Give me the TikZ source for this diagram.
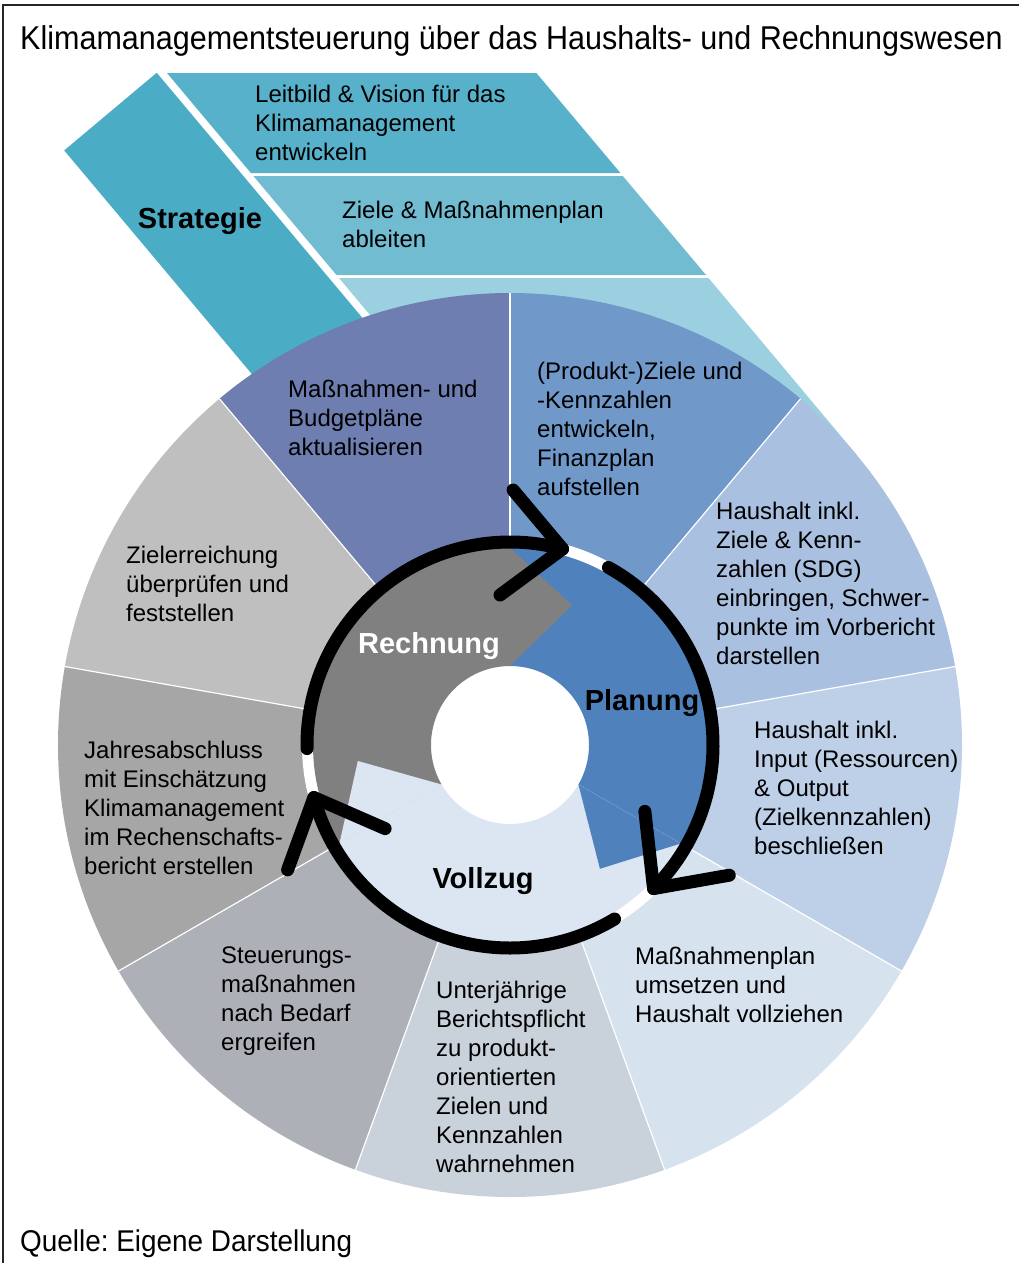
\documentclass[tikz,border=0pt]{standalone}
\usepackage{fontspec}
\usepackage{graphicx}
\setmainfont{Liberation Sans}
\frenchspacing
\definecolor{cStrat}{HTML}{4BACC6}
\definecolor{cRowA}{HTML}{58B1CA}
\definecolor{cRowB}{HTML}{72BCD1}
\definecolor{cRowC}{HTML}{9BD0E0}
\definecolor{sA}{HTML}{7099CA}
\definecolor{sB}{HTML}{A9C0E0}
\definecolor{sC}{HTML}{BDD0E8}
\definecolor{sD}{HTML}{D7E2EF}
\definecolor{sE}{HTML}{C9D1DB}
\definecolor{sF}{HTML}{ADB1B7}
\definecolor{sG}{HTML}{A6A6A6}
\definecolor{sH}{HTML}{BFBFBF}
\definecolor{sI}{HTML}{6F7EB0}
\definecolor{pGray}{HTML}{808080}
\definecolor{pBlue}{HTML}{4F81BD}
\definecolor{pLight}{HTML}{DCE6F2}
\tikzset{
  body/.style={font=\fontsize{24}{29}\selectfont, align=left, anchor=north west, inner sep=0pt, text=black},
  phase/.style={font=\fontsize{29}{34}\selectfont\bfseries, anchor=base, inner sep=0pt},
  cyc/.style={line width=13pt, line cap=round, line join=round, black}
}
\begin{document}
\begin{tikzpicture}[x=1pt,y=1pt]
\useasboundingbox (0,0) rectangle (1019,-1263);
\fill[white] (0,0) rectangle (1019,-1263);
% frame (top and left)
\draw[line width=2pt, black!85] (3,-1263) -- (3,-5) -- (1019,-5);
% strategy bands
\fill[cRowC] (339,-278) -- (708.5,-278) -- (856.3,-454.5) -- (510,-745) -- (441.4,-400) -- cycle;
\fill[cRowA] (167,-73) -- (536.4,-73) -- (620.4,-173) -- (250.9,-173) -- cycle;
\fill[cRowB] (253.4,-176) -- (622.8,-176) -- (706,-275) -- (336.5,-275) -- cycle;
\begin{scope}[rotate=-50]
  \fill[cStrat] (156.5,-47.5) rectangle (650,73.3);
\end{scope}
% outer ring
\begin{scope}[shift={(510,-745)}]
  \foreach \a/\b/\c in {90/50/sA, 50/10/sB, 10/-30/sC, -30/-70/sD, -70/-110/sE, -110/-150/sF, -150/-190/sG, 170/130/sH, 130/90/sI}{
    \fill[\c] (0,0) -- (\a:452) arc[start angle=\a, end angle=\b, radius=452] -- cycle;
  }
  \foreach \a in {90,50,10,-30,-70,-110,-150,170,130}{
    \draw[white, line width=1.2pt] (0,0) -- (\a:452);
  }
  \fill[white] (0,0) circle (208);
  % inner cycle sectors
  \fill[pGray] (90:79) -- (90:197) arc[start angle=90, end angle=210, radius=197] -- (210:79) arc[start angle=210, end angle=90, radius=79] -- cycle;
  \fill[pBlue] (-30:79) -- (-30:197) arc[start angle=-30, end angle=90, radius=197] -- (90:79) arc[start angle=90, end angle=-30, radius=79] -- cycle;
  \fill[pLight] (-150:79) -- (-150:197) arc[start angle=-150, end angle=-30, radius=197] -- (-30:79) arc[start angle=-30, end angle=-150, radius=79] -- cycle;
  \fill[pGray] (90:79) -- (90:197) -- (66:153) -- cycle;
  \fill[pBlue] (-30:79) -- (-30:197) -- (-54:153) -- cycle;
  \fill[pLight] (210:79) -- (210:197) -- (186:153) -- cycle;
  % black cycle arrows
  \draw[cyc] (181:203) arc[start angle=181, end angle=75, radius=203];
  \draw[cyc] (61:203) arc[start angle=61, end angle=-45, radius=203];
  \draw[cyc] (-59:203) arc[start angle=-59, end angle=-165, radius=203];
  \foreach \r in {0,-120,-240}{
    \begin{scope}[rotate=\r]
      \draw[cyc] (89.3:255) -- (75:203) -- (93.8:150.3);
    \end{scope}
  }
\end{scope}
% texts
\node[anchor=base west, inner sep=0pt] (title) at (20,-50) {\fontsize{33}{40}\selectfont\scalebox{0.925}[1]{Klimamanagementsteuerung über das Haushalts- und Rechnungswesen}};
\node[anchor=base west, inner sep=0pt] (quelle) at (20,-1251) {\fontsize{30}{36}\selectfont\scalebox{0.93}[1]{Quelle: Eigene Darstellung}};
\node[phase] (strategie) at (200,-228) {Strategie};
\node[phase, text=white] (rechnung) at (429,-653) {Rechnung};
\node[phase] (planung) at (642,-710) {Planung};
\node[phase] (vollzug) at (483,-888) {Vollzug};
\node[body] (leitbild) at (255,-85) {Leitbild \& Vision für das\\Klimamanagement\\entwickeln};
\node[body] (ziele) at (342,-201) {Ziele \& Maßnahmenplan\\ableiten};
\node[body] (budget) at (288,-380) {Maßnahmen- und\\Budgetpläne\\aktualisieren};
\node[body] (produkt) at (537,-362) {(Produkt-)Ziele und\\-Kennzahlen\\entwickeln,\\Finanzplan\\aufstellen};
\node[body] (hhziele) at (716,-502) {Haushalt inkl.\\Ziele \& Kenn-\\zahlen (SDG)\\einbringen, Schwer-\\punkte im Vorbericht\\darstellen};
\node[body] (hhinput) at (754,-721) {Haushalt inkl.\\Input (Ressourcen)\\\& Output\\(Zielkennzahlen)\\beschließen};
\node[body] (umsetzen) at (635,-947) {Maßnahmenplan\\umsetzen und\\Haushalt vollziehen};
\node[body] (unterj) at (436,-981) {Unterjährige\\Berichtspflicht\\zu produkt-\\orientierten\\Zielen und\\Kennzahlen\\wahrnehmen};
\node[body] (steuer) at (221,-947) {Steuerungs-\\maßnahmen\\nach Bedarf\\ergreifen};
\node[body] (jahr) at (84,-741) {Jahresabschluss\\mit Einschätzung\\Klimamanagement\\im Rechenschafts-\\bericht erstellen};
\node[body] (zielerr) at (126,-546) {Zielerreichung\\überprüfen und\\feststellen};
\end{tikzpicture}
\end{document}
